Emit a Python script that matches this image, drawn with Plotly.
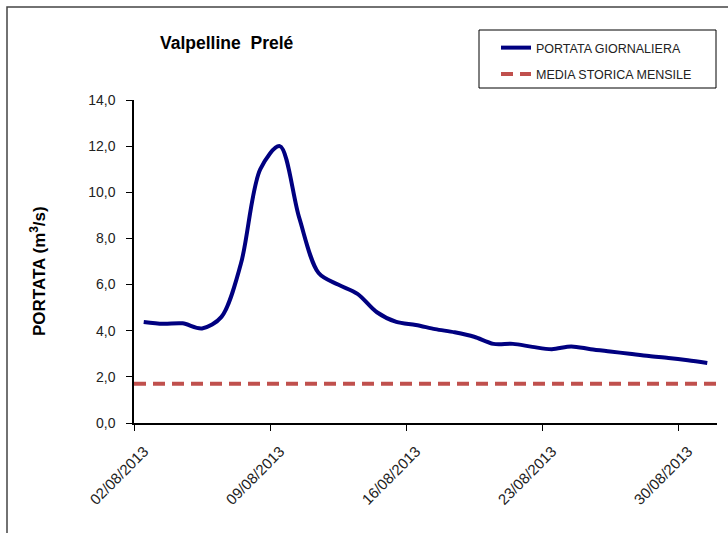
import plotly.graph_objects as go

# ---- data ----
days = list(range(2, 32))
dates = [f"2013-08-{d:02d} 12:00" for d in days]
portata = [4.38, 4.30, 4.32, 4.10, 4.6, 6.9, 11.0, 12.0, 8.9, 6.5,
           6.0, 5.6, 4.8, 4.38, 4.25, 4.07, 3.93, 3.74, 3.43, 3.43,
           3.3, 3.2, 3.32, 3.2, 3.1, 3.0, 2.9, 2.82, 2.72, 2.6]
media_storica = 1.7
axis_range = ["2013-08-02", "2013-09-01"]
tick_dates = ["2013-08-02", "2013-08-09", "2013-08-16", "2013-08-23", "2013-08-30"]
tick_labels = ["02/08/2013", "09/08/2013", "16/08/2013", "23/08/2013", "30/08/2013"]
y_ticks = [0, 2, 4, 6, 8, 10, 12, 14]

FONT = "Liberation Sans, Arial, sans-serif"

fig = go.Figure()
fig.add_trace(go.Scatter(
    x=dates, y=portata, mode="lines", name="PORTATA GIORNALIERA",
    legendgroup="a", hoverinfo="skip",
    line=dict(color="#000080", width=4, shape="spline", smoothing=0.9),
))
fig.add_trace(go.Scatter(
    x=axis_range, y=[media_storica, media_storica], mode="lines",
    name="MEDIA STORICA MENSILE", legendgroup="b", hoverinfo="skip",
    line=dict(color="#C0504D", width=4, dash="12px,7px"),
))

W, H = 728, 533
L, R, T, B = 134, 11, 100, 110
pw, ph = W - L - R, H - T - B

def px(xp):
    return (xp - L) / pw

def py(yp):
    return (H - B - yp) / ph

fig.update_layout(
    width=W, height=H,
    margin=dict(l=L, r=R, t=T, b=B, autoexpand=False),
    paper_bgcolor="white", plot_bgcolor="white",
    separators=",.",
    font=dict(family=FONT, color="#000000"),
    showlegend=True,
    legend=dict(
        x=px(496), y=py(33), xanchor="left", yanchor="top",
        borderwidth=0, bgcolor="rgba(0,0,0,0)",
        font=dict(size=12.5, family=FONT, color="#222222"), itemwidth=30,
        traceorder="grouped", tracegroupgap=7,
    ),
    annotations=[
        dict(
            text="<b>Valpelline  Prelé</b>", xref="paper", yref="paper",
            x=px(227), y=py(43), xanchor="center", yanchor="middle",
            showarrow=False, font=dict(size=17.5, family=FONT),
        ),
        dict(
            text="<b>PORTATA (m<sup>3</sup>/s)</b>", xref="paper", yref="paper",
            x=px(38), y=py(271), xanchor="center", yanchor="middle",
            textangle=-90, showarrow=False, font=dict(size=17, family=FONT),
        ),
    ],
    shapes=[
        dict(
            type="path", xref="paper", yref="paper",
            path=f"M {px(7)} {py(H + 5)} L {px(7)} {py(7)} L {px(W + 5)} {py(7)}",
            line=dict(color="#444444", width=1.5),
        ),
        dict(
            type="rect", xref="paper", yref="paper",
            x0=px(479), x1=px(716), y0=py(88), y1=py(30),
            line=dict(color="#000000", width=1), fillcolor="rgba(0,0,0,0)",
        ),
    ],
)

fig.update_xaxes(
    type="date", range=axis_range, automargin=False,
    tickvals=tick_dates, ticktext=tick_labels, tickangle=-45,
    showgrid=False, zeroline=False,
    showline=True, linecolor="#000000", linewidth=1.5,
    ticks="outside", ticklen=6, tickcolor="#000000",
    ticklabelshift=10, ticklabelstandoff=6,
    tickfont=dict(size=15, family=FONT, color="#222222"),
)
fig.update_yaxes(
    range=[0, 14], tickvals=y_ticks, tickformat=".1f", automargin=False,
    showgrid=False, zeroline=False,
    showline=True, linecolor="#000000", linewidth=1.5,
    ticks="outside", ticklen=6, tickcolor="#000000",
    ticklabelstandoff=8,
    tickfont=dict(size=14, family=FONT, color="#222222"),
)

fig.write_html("out.html", config={"displayModeBar": False},
               post_script="document.body.style.margin='0';")
